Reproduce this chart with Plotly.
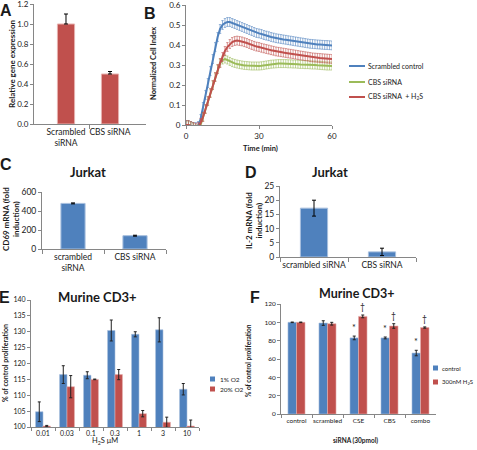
import plotly.graph_objects as go

W, H = 477, 450
FONT = "Lato"
BLUE = "#4F81BD"
RED = "#C0504D"
GREEN = "#9BBB59"
AXIS = "#868686"
TXT = "#1a1a1a"

# ---------------- data ----------------
# A
a_cats = ["Scrambled<br>siRNA", "CBS siRNA"]
a_vals = [1.0, 0.5]
a_err = [0.1, 0.025]

# B  (time in min, normalized cell index)
b_time = list(range(61))
b_scrambled = [0.00, 0.00, -0.005, -0.01, -0.01, -0.005, 0.03, 0.09, 0.15, 0.21,
               0.27, 0.33, 0.39, 0.44, 0.48, 0.50, 0.51, 0.515, 0.515, 0.51,
               0.505, 0.50, 0.495, 0.49, 0.485, 0.48, 0.475, 0.47, 0.465, 0.46,
               0.458, 0.455, 0.45, 0.447, 0.444, 0.44, 0.437, 0.434, 0.432, 0.43,
               0.428, 0.426, 0.424, 0.422, 0.42, 0.418, 0.416, 0.414, 0.412, 0.41,
               0.408, 0.406, 0.405, 0.404, 0.403, 0.402, 0.401, 0.40, 0.40, 0.399, 0.398]
b_cbs = [0.00, 0.00, -0.005, -0.01, -0.02, -0.02, 0.00, 0.04, 0.08, 0.12,
         0.16, 0.20, 0.24, 0.28, 0.31, 0.325, 0.33, 0.325, 0.318, 0.312,
         0.308, 0.305, 0.302, 0.30, 0.298, 0.297, 0.296, 0.295, 0.295, 0.295,
         0.295, 0.296, 0.298, 0.30, 0.302, 0.304, 0.305, 0.306, 0.307, 0.307,
         0.307, 0.307, 0.306, 0.306, 0.305, 0.305, 0.304, 0.303, 0.303, 0.302,
         0.302, 0.301, 0.30, 0.30, 0.299, 0.298, 0.297, 0.296, 0.295, 0.295, 0.295]
b_cbs_h2s = [0.00, 0.00, -0.005, -0.01, -0.015, -0.01, 0.01, 0.04, 0.08, 0.12,
             0.16, 0.20, 0.24, 0.28, 0.31, 0.34, 0.37, 0.39, 0.405, 0.415,
             0.42, 0.422, 0.42, 0.418, 0.414, 0.41, 0.405, 0.40, 0.396, 0.392,
             0.39, 0.386, 0.383, 0.38, 0.377, 0.374, 0.371, 0.368, 0.366, 0.364,
             0.362, 0.36, 0.358, 0.356, 0.354, 0.352, 0.35, 0.348, 0.346, 0.344,
             0.342, 0.34, 0.338, 0.337, 0.336, 0.335, 0.334, 0.333, 0.332, 0.331, 0.33]
b_err_scrambled = 0.022
b_err_cbs = 0.02
b_err_cbs_h2s = 0.022
b_names = ["Scrambled control", "CBS siRNA", "CBS siRNA  + H<sub>2</sub>S"]

# C
c_cats = ["scrambled<br>siRNA", "CBS siRNA"]
c_vals = [480, 140]
c_err = [5, 5]

# D
d_cats = ["scrambled siRNA", "CBS siRNA"]
d_vals = [17.2, 1.8]
d_err = [2.8, 1.3]

# E
e_cats = ["0.01", "0.03", "0.1", "0.3", "1", "3", "10"]
e_o2_1 = [104.8, 116.5, 116.3, 130.4, 129.2, 130.6, 111.9]
e_o2_1_err = [3.1, 2.8, 1.1, 3.3, 0.8, 3.8, 1.8]
e_o2_20 = [100.3, 112.7, 115.0, 116.5, 104.2, 101.5, 100.3]
e_o2_20_err = [0.2, 3.5, 0.1, 1.6, 1.0, 1.6, 1.9]

# F
f_cats = ["control", "scrambled", "CSE", "CBS", "combo"]
f_ctrl = [100, 99.2, 83.0, 83.0, 66.5]
f_ctrl_err = [0.3, 2.5, 2.0, 1.0, 3.0]
f_h2s = [100, 98.5, 106.5, 96.0, 94.3]
f_h2s_err = [0.3, 1.5, 1.5, 2.5, 0.7]
f_star = ["", "", "*", "*", "*"]
f_dagger = ["", "", "\u2020", "\u2020", "\u2020"]


# ---------------- helpers ----------------
def px(x):
    return x / W


def py(y):
    return 1 - y / H


fig = go.Figure()


def axis_common(size=8):
    return dict(showline=True, linecolor=AXIS, linewidth=1, ticks="outside",
                ticklen=3, tickcolor=AXIS, tickwidth=1, showgrid=False,
                zeroline=False, tickangle=0, automargin=False,
                tickfont=dict(family=FONT, size=size, color=TXT),
                fixedrange=True)


def err(arr, color="#000", thick=1, width=2, minus=None):
    d = dict(type="data", array=arr, visible=True, color=color,
             thickness=thick, width=width)
    if minus is not None:
        d["arrayminus"] = minus
        d["symmetric"] = False
    return d


# ---- A ----
fig.add_trace(go.Bar(x=[0, 1], y=a_vals, width=0.39, marker=dict(color=RED, line=dict(color="#E6B0AE", width=1)),
                     error_y=err(a_err, minus=[0, 0]), xaxis="x", yaxis="y", showlegend=False))
# ---- B ----
for ys, col, ecol, e in [(b_scrambled, BLUE, "rgba(79,129,189,0.75)", b_err_scrambled),
                         (b_cbs, GREEN, "rgba(155,187,89,0.75)", b_err_cbs),
                         (b_cbs_h2s, RED, "rgba(192,80,77,0.75)", b_err_cbs_h2s)]:
    fig.add_trace(go.Scatter(x=b_time, y=ys, mode="lines", line=dict(color=col, width=2),
                             error_y=dict(type="constant", value=e, color=ecol, thickness=0.8, width=1.2),
                             xaxis="x2", yaxis="y2", showlegend=False))
# ---- C ----
fig.add_trace(go.Bar(x=c_cats, y=c_vals, width=0.39, marker=dict(color=BLUE, line=dict(color="#A7BFDE", width=1)),
                     error_y=err(c_err), xaxis="x3", yaxis="y3", showlegend=False))
# ---- D ----
fig.add_trace(go.Bar(x=d_cats, y=d_vals, width=0.4, marker=dict(color=BLUE, line=dict(color="#A7BFDE", width=1)),
                     error_y=err(d_err), xaxis="x4", yaxis="y4", showlegend=False))
# ---- E ----
ew = 0.31
fig.add_trace(go.Bar(x=e_cats, y=e_o2_1, width=ew, offset=-ew, marker=dict(color=BLUE, line=dict(color="#A7BFDE", width=0.6)),
                     error_y=err(e_o2_1_err, color="#222", width=1.5), xaxis="x5", yaxis="y5", showlegend=False))
fig.add_trace(go.Bar(x=e_cats, y=e_o2_20, width=ew, offset=0, marker=dict(color=RED, line=dict(color="#E6B0AE", width=0.6)),
                     error_y=err(e_o2_20_err, color="#222", width=1.5), xaxis="x5", yaxis="y5", showlegend=False))
# ---- F ----
fw = 0.275
fig.add_trace(go.Bar(x=f_cats, y=f_ctrl, width=fw, offset=-fw, marker=dict(color=BLUE, line=dict(color="#A7BFDE", width=0.6)),
                     error_y=err(f_ctrl_err, color="#222", width=1.5), xaxis="x6", yaxis="y6", showlegend=False))
fig.add_trace(go.Bar(x=f_cats, y=f_h2s, width=fw, offset=0, marker=dict(color=RED, line=dict(color="#E6B0AE", width=0.6)),
                     error_y=err(f_h2s_err, color="#222", width=1.5), xaxis="x6", yaxis="y6", showlegend=False))

layout = dict(width=W, height=H, margin=dict(l=0, r=0, t=0, b=0),
              paper_bgcolor="white", plot_bgcolor="white",
              font=dict(family=FONT, color=TXT), showlegend=False)

# A axes (bars at 0 and 1, category labels as tick text)
layout["xaxis"] = dict(axis_common(8.5), domain=[px(34), px(146)], anchor="y", range=[-0.727, 1.818],
                       tickmode="array", tickvals=[0, 1], ticktext=a_cats, ticks="",
                       minor=dict(tickmode="array", tickvals=[0.545], ticks="outside", ticklen=4, tickcolor=AXIS))
layout["yaxis"] = dict(axis_common(8), domain=[py(124), py(4)], anchor="x", range=[0, 1.2], dtick=0.2, tickformat=".1f")
# B
layout["xaxis2"] = dict(axis_common(8), domain=[px(186), px(332)], anchor="y2", range=[0, 60], tickvals=[0, 30, 60])
layout["yaxis2"] = dict(axis_common(8), domain=[py(125), py(5)], anchor="x2", range=[0, 0.6], dtick=0.1)
# C
layout["xaxis3"] = dict(axis_common(8.5), domain=[px(42), px(166)], anchor="y3", type="category", tickson="boundaries", ticklen=4)
layout["yaxis3"] = dict(axis_common(8.5), domain=[py(249), py(192)], anchor="x3", range=[0, 600], dtick=200)
# D
layout["xaxis4"] = dict(axis_common(8.5), domain=[px(280), px(416)], anchor="y4", type="category", tickson="boundaries", ticklen=4)
layout["yaxis4"] = dict(axis_common(8.5), domain=[py(257), py(186)], anchor="x4", range=[0, 25], dtick=5)
# E
layout["xaxis5"] = dict(axis_common(7), domain=[px(31), px(199)], anchor="y5", type="category", tickson="boundaries", ticklen=3)
layout["yaxis5"] = dict(axis_common(7), domain=[py(427), py(300)], anchor="x5", range=[100, 140], dtick=5)
# F
layout["xaxis6"] = dict(axis_common(6.5), domain=[px(281), px(436)], anchor="y6", type="category", tickson="boundaries", ticklen=3)
layout["yaxis6"] = dict(axis_common(6.5), domain=[py(414), py(304)], anchor="x6", range=[0, 120], dtick=20)

anns = []
shapes = []


def note(text, x, y, size, bold=False, angle=0, xanchor="center", family=FONT, color=TXT):
    anns.append(dict(text=("<b>%s</b>" % text) if bold else text, x=px(x), y=py(y), xref="paper", yref="paper",
                     showarrow=False, xanchor=xanchor, yanchor="middle", textangle=angle,
                     font=dict(family=family, size=size, color=color)))


LET = "Liberation Sans"
# panel letters
note("A", 6, 10, 16, True, family=LET)
note("B", 150, 14, 16, True, family=LET)
note("C", 6, 164, 16, True, family=LET)
note("D", 251, 173, 16, True, family=LET)
note("E", 4, 297, 16, True, family=LET)
note("F", 255, 297, 16, True, family=LET)

# titles
note("Jurkat", 88, 172, 13, True)
note("Jurkat", 330, 172, 13, True)
note("Murine CD3+", 97, 297, 13, True)
note("Murine CD3+", 357, 293, 12.5, True)

# axis titles
note("Relative gene expression", 12, 64, 8, True, angle=-90)
note("Normalized Cell Index", 153, 64, 7.5, True, angle=-90)
note("Time (min)", 260, 148, 7.5, True)
note("CD69 mRNA (fold<br>induction)", 11, 219, 8, True, angle=-90)
note("IL-2 mRNA (fold<br>induction)", 254, 220, 8, True, angle=-90)
note("% of control proliferation", 5, 363, 7, True, angle=-90)
note("H<sub>2</sub>S \u03bcM", 105, 441, 7.5)
note("% of control proliferation", 248, 360, 6.5, True, angle=-90)
note("siRNA (30pmol)", 355, 440, 6.5, True)

# B legend
for i, (name, col) in enumerate(zip(b_names, [BLUE, GREEN, RED])):
    yy = [66, 82, 97][i]
    shapes.append(dict(type="line", xref="paper", yref="paper", x0=px(349), x1=px(365), y0=py(yy), y1=py(yy),
                       line=dict(color=col, width=2)))
    note(name, 366, yy, 7, xanchor="left")

# E legend
for name, col, yy in [("1% O2", BLUE, 379), ("20% O2", RED, 389)]:
    shapes.append(dict(type="rect", xref="paper", yref="paper", x0=px(210), x1=px(215), y0=py(yy + 2.5), y1=py(yy - 2.5),
                       fillcolor=col, line=dict(width=0)))
    note(name, 217.5, yy, 6.5, xanchor="left")

# F legend
for name, col, yy in [("control", BLUE, 368), ("300nM H<sub>2</sub>S", RED, 382)]:
    shapes.append(dict(type="rect", xref="paper", yref="paper", x0=px(433), x1=px(438), y0=py(yy + 2.5), y1=py(yy - 2.5),
                       fillcolor=col, line=dict(width=0)))
    note(name, 440, yy, 6, xanchor="left")

# F significance marks (data coordinates)
for i in range(len(f_cats)):
    if f_star[i]:
        anns.append(dict(text=f_star[i], x=i - fw / 2, y=f_ctrl[i] + f_ctrl_err[i] + 1, xref="x6", yref="y6",
                         showarrow=False, yanchor="bottom", font=dict(family=FONT, size=9, color=TXT)))
    if f_dagger[i]:
        anns.append(dict(text=f_dagger[i], x=i + fw / 2, y=f_h2s[i] + f_h2s_err[i] + 1, xref="x6", yref="y6",
                         showarrow=False, yanchor="bottom", font=dict(family=FONT, size=8.5, color=TXT)))

layout["annotations"] = anns
layout["shapes"] = shapes
fig.update_layout(**layout)
fig.write_html("out.html", config={"displayModeBar": False},
               post_script="document.body.style.margin='0';document.body.style.overflow='hidden';")
